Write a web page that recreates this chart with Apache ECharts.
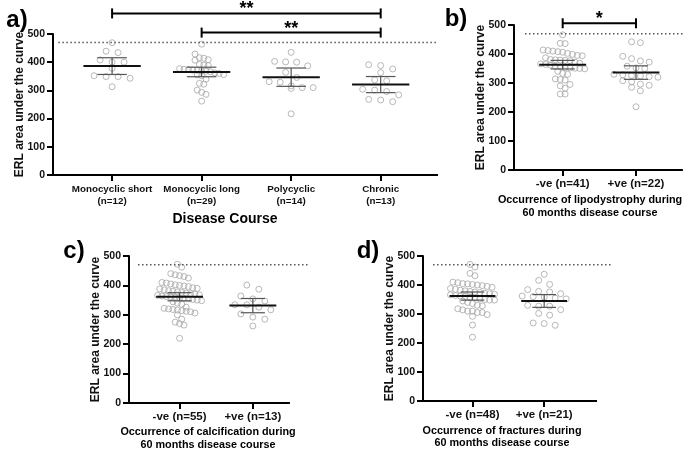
<!DOCTYPE html>
<html>
<head>
<meta charset="utf-8">
<script src="https://cdn.jsdelivr.net/npm/echarts@6/dist/echarts.min.js"></script>
<style>
html, body { margin: 0; padding: 0; background: #fff; }
#main { width: 685px; height: 451px; }
</style>
</head>
<body>
<div id="main"></div>
<script>
// ---- data (ERL area under the curve) ----
var courseCats = ['Monocyclic short', 'Monocyclic long', 'Polycyclic', 'Chronic'];
var monoShort = [469, 439, 434, 408, 400, 400, 378, 352, 349, 349, 343, 313];
var monoLong = [464, 429, 416, 414, 409, 407, 392, 390, 388, 377, 375, 374, 372, 371, 370, 368, 366,
    362, 360, 356, 355, 352, 340, 325, 322, 301, 293, 286, 262];
var polycyclic = [435, 403, 401, 400, 387, 364, 346, 331, 329, 316, 310, 310, 307, 217];
var chronic = [391, 388, 376, 363, 337, 334, 304, 301, 296, 284, 268, 266, 260];

var lipoNeg = [466, 437, 436, 414, 412, 410, 408, 406, 402, 399, 395, 394, 387, 381, 380, 379, 378, 377,
    372, 368, 366, 364, 362, 358, 355, 353, 352, 351, 350, 349, 340, 333, 330, 314, 312, 310, 295, 290, 282, 262, 262];
var lipoPos = [442, 439, 392, 384, 376, 372, 358, 352, 350, 330, 328, 326, 324, 322, 320, 308, 304, 296, 292, 285, 273, 218];

var calcNeg = [472, 462, 440, 436, 433, 430, 425, 410, 408, 405, 402, 400, 398, 396, 392, 390, 388, 385, 382, 380,
    378, 376, 374, 372, 370, 368, 366, 364, 362, 360, 358, 356, 355, 354, 352, 350, 348, 344, 340, 336,
    326, 322, 320, 318, 316, 314, 312, 310, 306, 300, 285, 275, 270, 265, 220];
var calcPos = [401, 387, 364, 354, 347, 334, 334, 326, 317, 303, 292, 285, 262];

var fracNeg = [471, 462, 440, 432, 410, 408, 405, 404, 402, 400, 398, 395, 392, 388, 385, 382, 380, 378, 376, 374,
    372, 370, 368, 366, 364, 362, 360, 358, 355, 352, 350, 348, 348, 345, 340, 336, 330, 328, 318, 314,
    310, 305, 310, 305, 298, 292, 262, 220];
var fracPos = [437, 416, 402, 384, 378, 376, 370, 362, 360, 358, 355, 352, 330, 327, 327, 315, 302, 296, 269, 267, 261];

var sideNames = ['-ve', '+ve'];
var refLevel = 470;
var yMax = 500, yStep = 100;

var FONT = '"Liberation Sans", Arial, Helvetica, sans-serif';

// 95% t quantile (Cornish-Fisher style approximation)
function t975(df) {
    var z = 1.959964;
    return z + (z * z * z + z) / (4 * df) + (5 * Math.pow(z, 5) + 16 * z * z * z + 3 * z) / (96 * df * df);
}
function stats(arr) {
    var n = arr.length, m = 0, s = 0;
    arr.forEach(function (v) { m += v; });
    m /= n;
    arr.forEach(function (v) { s += (v - m) * (v - m); });
    var sd = Math.sqrt(s / (n - 1));
    var h = t975(n - 1) * sd / Math.sqrt(n);
    return { mean: m, lo: m - h, hi: m + h };
}
// prism-like rows: points within one symbol height share a row, spread sideways
function swarm(values, pxPerVal, d, maxHalf) {
    var idx = values.map(function (v, k) { return k; }).sort(function (a, b) { return values[b] - values[a]; });
    var rows = [], cur = null;
    idx.forEach(function (k) {
        if (cur && (cur.top - values[k]) * pxPerVal < d) cur.items.push(k);
        else { cur = { top: values[k], items: [k] }; rows.push(cur); }
    });
    var maxRow = 1;
    rows.forEach(function (r) { maxRow = Math.max(maxRow, r.items.length); });
    var step = maxRow > 1 ? Math.min(2 * d, 2 * maxHalf / (maxRow - 1)) : 2 * d;
    var off = [];
    rows.forEach(function (r) {
        r.items.forEach(function (k, j) { off[k] = (j - (r.items.length - 1) / 2) * step; });
    });
    return off;
}

var panels = [
    { grid: { left: 53, top: 34, width: 385, height: 141 }, min: -0.66, max: 3.64, axisEnd: 3.64, refFrom: -0.6,
      groups: [monoShort, monoLong, polycyclic, chronic],
      names: courseCats, labelSize: 9.8 },
    { grid: { left: 514, top: 25, width: 170, height: 145 }, min: -0.664, max: 1.655, axisEnd: 1.64, refFrom: -0.514,
      groups: [lipoNeg, lipoPos], names: sideNames, labelSize: 11.5 },
    { grid: { left: 129, top: 256, width: 181, height: 147 }, min: -0.69, max: 1.78, axisEnd: 1.506, refFrom: -0.567,
      groups: [calcNeg, calcPos], names: sideNames, labelSize: 11.5 },
    { grid: { left: 423, top: 256, width: 189, height: 145 }, min: -0.69, max: 1.946, axisEnd: 1.737, refFrom: -0.55,
      groups: [fracNeg, fracPos], names: sideNames, labelSize: 11.5 }
];

var grids = [], xAxes = [], yAxes = [], series = [];

panels.forEach(function (p, k) {
    var ticks = p.groups.map(function (g, i) { return i; });
    var twoLine = k === 0;
    // keep the plot boxes where they are, labels may sit near the page edge
    grids.push(Object.assign({ containLabel: false, outerBoundsMode: 'none' }, p.grid));
    xAxes.push({
        type: 'value', gridIndex: k, min: p.min, max: p.max,
        axisLine: { show: false, onZero: false },
        splitLine: { show: false },
        axisTick: { show: true, customValues: ticks, length: 6, lineStyle: { color: '#000', width: 2 } },
        axisLabel: {
            customValues: ticks,
            formatter: function (v) {
                var i = Math.round(v), n = '(n=' + p.groups[i].length + ')';
                return twoLine ? p.names[i] + '\n' + n : p.names[i] + ' ' + n;
            },
            fontFamily: FONT, fontWeight: 'bold', fontSize: p.labelSize, color: '#111',
            lineHeight: 12.5, margin: 8
        }
    });
    yAxes.push({
        type: 'value', gridIndex: k, min: 0, max: yMax, interval: yStep,
        axisLine: { show: true, onZero: false, lineStyle: { color: '#000', width: 2 } },
        axisTick: { show: true, length: 6, lineStyle: { color: '#000', width: 2 } },
        axisLabel: { fontFamily: FONT, fontWeight: 'bold', fontSize: 10.5, color: '#111', margin: 8 },
        splitLine: { show: false },
        name: 'ERL area under the curve', nameLocation: 'middle', nameGap: 27, nameMoveOverlap: false,
        nameTextStyle: { fontFamily: FONT, fontWeight: 'bold', fontSize: 12, color: '#111' }
    });

    var pxPerVal = p.grid.height / yMax;
    var pts = [], summary = [];
    p.groups.forEach(function (g, i) {
        var off = swarm(g, pxPerVal, 6, 22);
        g.forEach(function (v, j) { pts.push({ value: [i, v], symbolOffset: [off[j], 0] }); });
        var s = stats(g);
        summary.push([i, s.mean, s.lo, s.hi]);
    });

    series.push({
        type: 'scatter', xAxisIndex: k, yAxisIndex: k, symbol: 'circle', symbolSize: 6,
        itemStyle: { color: 'rgba(255,255,255,0)', borderColor: '#a6a6a6', borderWidth: 1 },
        data: pts, z: 2
    });
    series.push({
        type: 'custom', xAxisIndex: k, yAxisIndex: k, z: 5, data: summary,
        renderItem: function (params, api) {
            var x = api.value(0), m = api.value(1), lo = api.value(2), hi = api.value(3);
            var a = api.coord([x - 0.32, m]), b = api.coord([x + 0.32, m]);
            var pl = api.coord([x, lo]), ph = api.coord([x, hi]);
            var cap = api.size([0.165, 0])[0];
            var ci = { stroke: '#555', lineWidth: 1.2 };
            return {
                type: 'group', children: [
                    { type: 'line', shape: { x1: pl[0], y1: pl[1], x2: ph[0], y2: ph[1] }, style: ci },
                    { type: 'line', shape: { x1: pl[0] - cap, y1: pl[1], x2: pl[0] + cap, y2: pl[1] }, style: ci },
                    { type: 'line', shape: { x1: ph[0] - cap, y1: ph[1], x2: ph[0] + cap, y2: ph[1] }, style: ci },
                    { type: 'line', shape: { x1: a[0], y1: a[1], x2: b[0], y2: b[1] }, style: { stroke: '#111', lineWidth: 2 } }
                ]
            };
        }
    });
    series.push({
        type: 'line', xAxisIndex: k, yAxisIndex: k, symbol: 'none', silent: true, clip: false,
        lineStyle: { color: '#555', width: 1.5, type: [1.5, 2.5] },
        data: [[p.refFrom, refLevel], [p.max, refLevel]]
    });
    // x axis baseline (dotted line can run past it)
    series.push({
        type: 'line', xAxisIndex: k, yAxisIndex: k, symbol: 'none', silent: true, clip: false, z: 6,
        lineStyle: { color: '#000', width: 2 },
        data: [[p.min, 0], [p.axisEnd, 0]]
    });
});

// significance brackets: [from, to, bar level]
var bracketsA = [[0, 3, 573, '**'], [1, 3, 505, '**']];
var bracketsB = [[0, 1, 506, '*']];
function bracketSeries(k, list) {
    return {
        type: 'custom', xAxisIndex: k, yAxisIndex: k, z: 7, data: list.map(function (b) { return b.slice(0, 3); }),
        renderItem: function (params, api) {
            var p1 = api.coord([api.value(0), api.value(2)]), p2 = api.coord([api.value(1), api.value(2)]);
            var st = { stroke: '#000', lineWidth: 2 };
            return {
                type: 'group', children: [
                    { type: 'line', shape: { x1: p1[0], y1: p1[1], x2: p2[0], y2: p2[1] }, style: st },
                    { type: 'line', shape: { x1: p1[0], y1: p1[1] - 5, x2: p1[0], y2: p1[1] + 5 }, style: st },
                    { type: 'line', shape: { x1: p2[0], y1: p2[1] - 5, x2: p2[0], y2: p2[1] + 5 }, style: st },
                    { type: 'text', x: (p1[0] + p2[0]) / 2, y: p1[1] - 4,
                      style: { text: list[params.dataIndex][3], font: 'bold 18px ' + FONT, fill: '#000',
                               align: 'center', verticalAlign: 'middle', textAlign: 'center', textVerticalAlign: 'middle' } }
                ]
            };
        }
    };
}
series.push(bracketSeries(0, bracketsA));
series.push(bracketSeries(1, bracketsB));

function label(txt, x, y, size) {
    return {
        type: 'text', x: x, y: y, silent: true,
        style: { text: txt, font: 'bold ' + size + 'px ' + FONT, fill: '#000',
                 align: 'center', verticalAlign: 'middle', textAlign: 'center', textVerticalAlign: 'middle' }
    };
}

var chart = echarts.init(document.getElementById('main'));
chart.setOption({
    animation: false,
    backgroundColor: '#fff',
    grid: grids,
    xAxis: xAxes,
    yAxis: yAxes,
    series: series,
    graphic: [
        label('a)', 17, 20, 24),
        label('b)', 456, 19, 24),
        label('c)', 74, 251, 24),
        label('d)', 368, 251, 24),
        label('Disease Course', 225, 219, 14),
        label('Occurrence of lipodystrophy during', 590, 200, 10.8),
        label('60 months disease course', 590, 213, 10.8),
        label('Occurrence of calcification during', 208, 432, 10.8),
        label('60 months disease course', 208, 445, 10.8),
        label('Occurrence of fractures during', 502, 431, 10.8),
        label('60 months disease course', 502, 443, 10.8)
    ]
});
</script>
</body>
</html>
